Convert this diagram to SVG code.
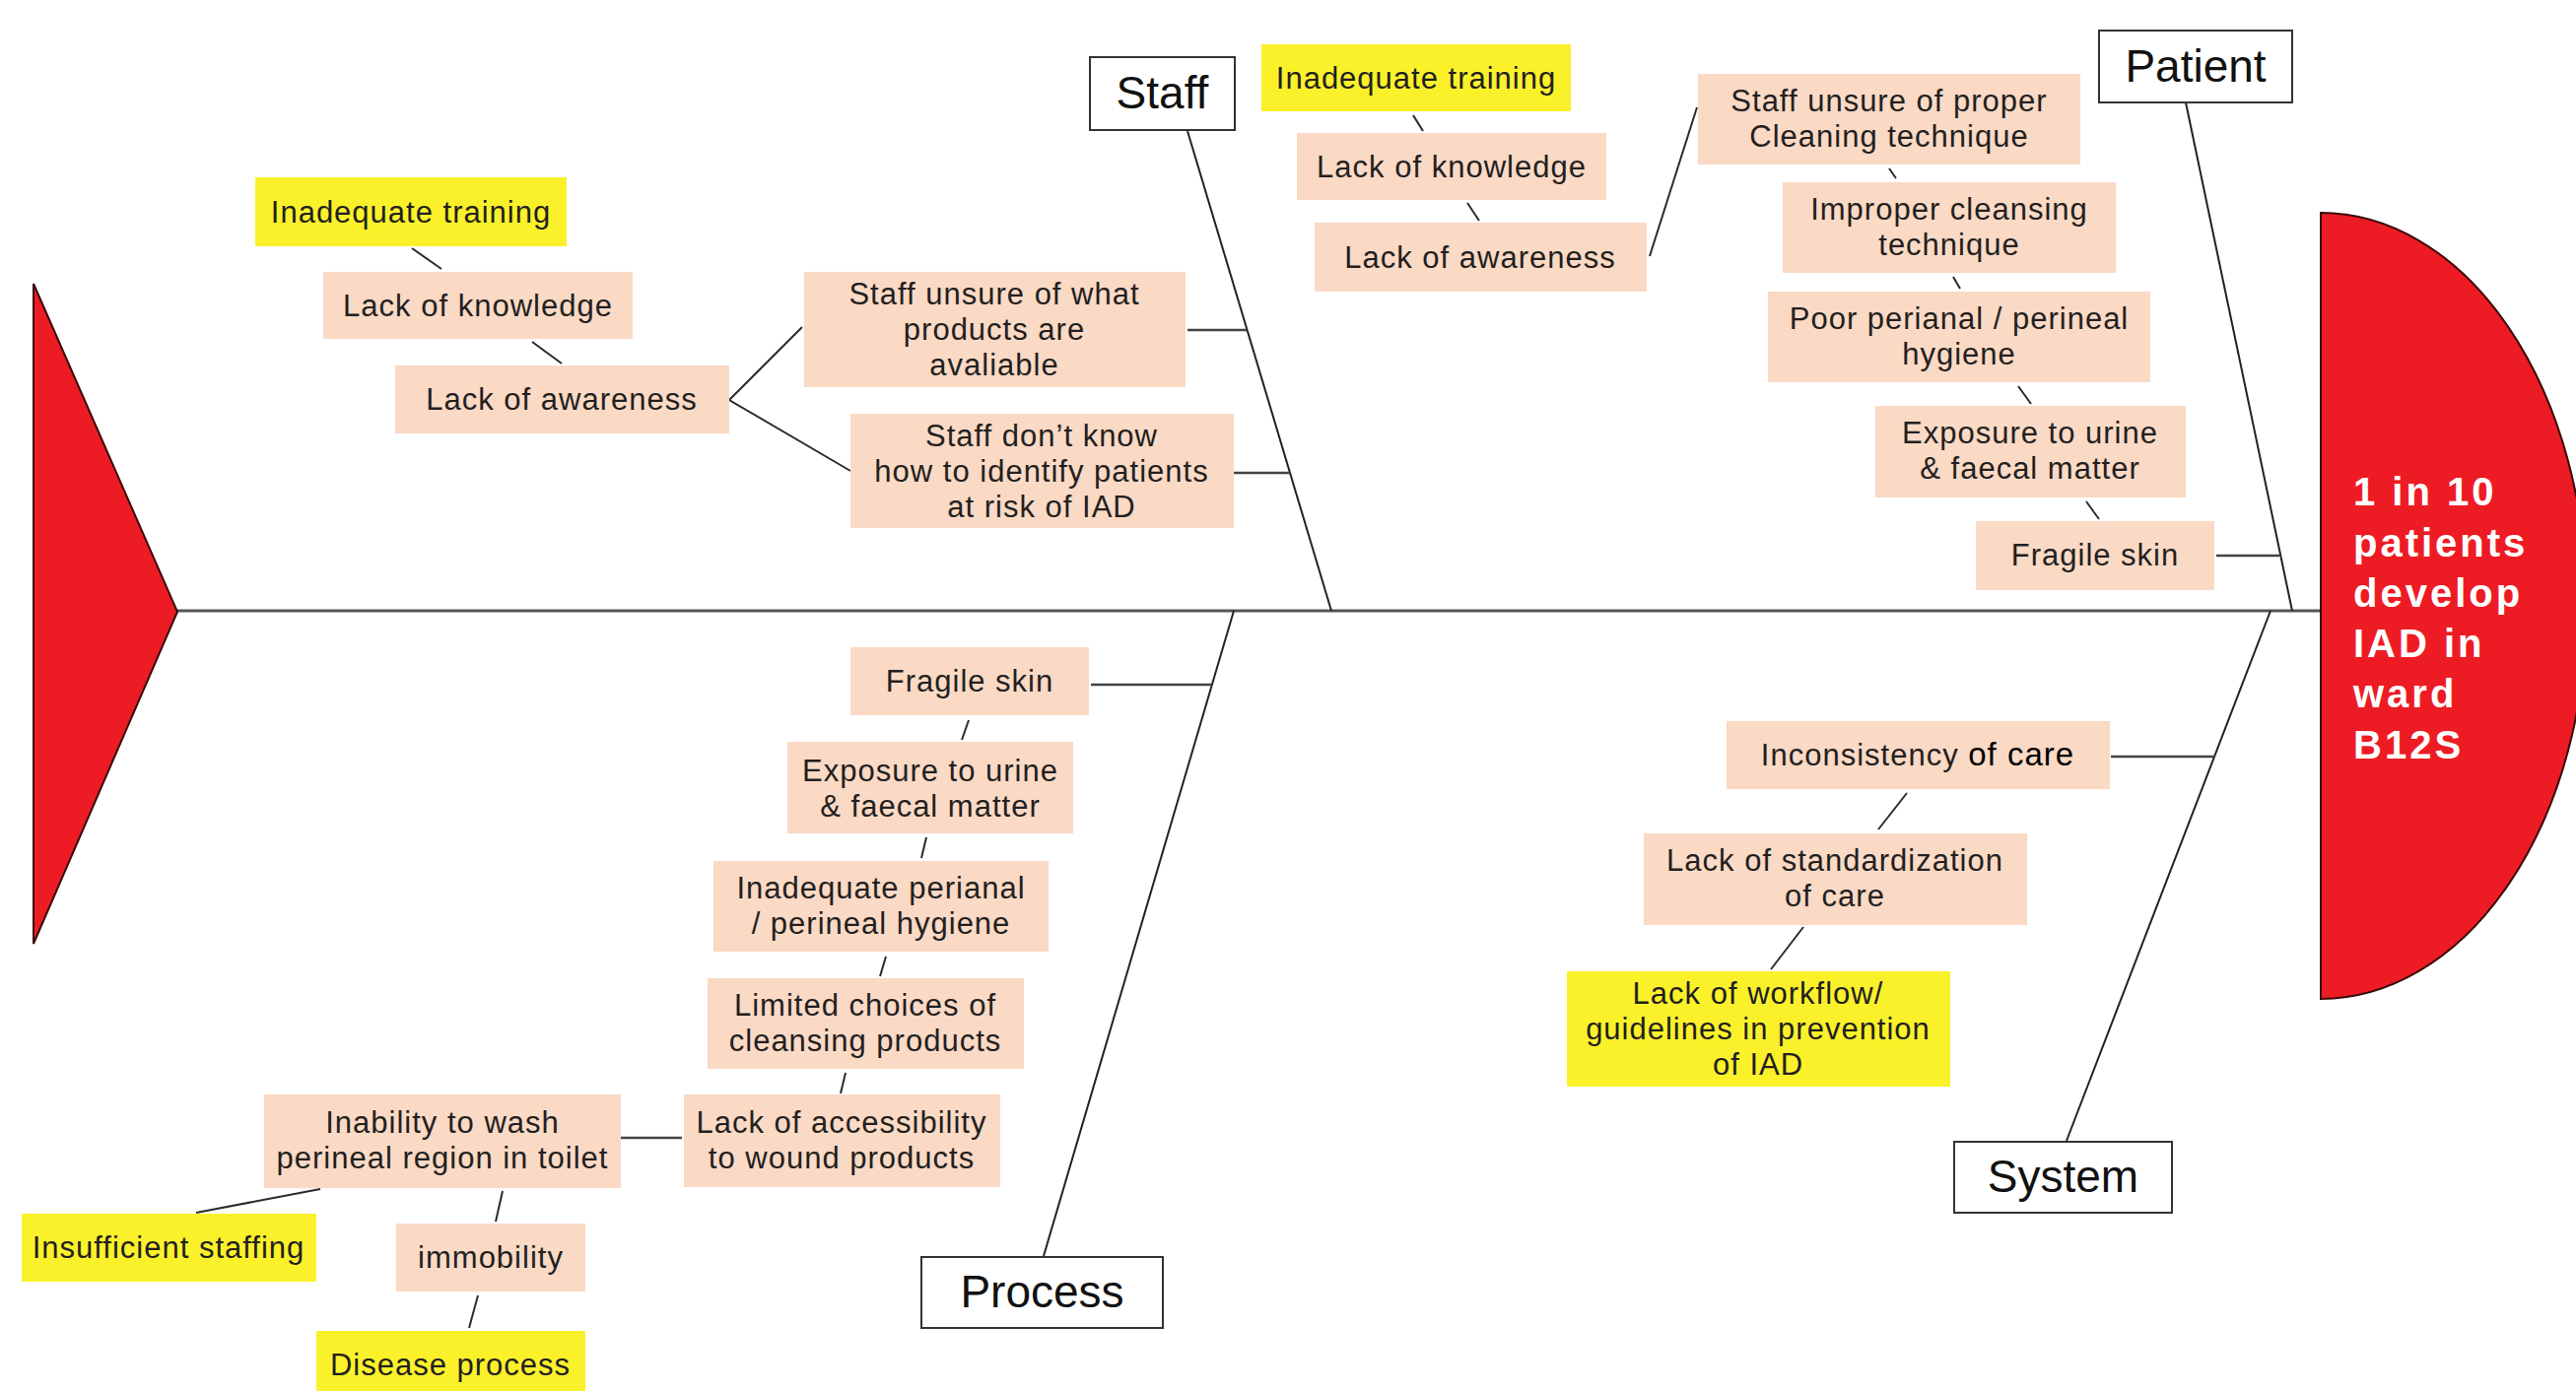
<svg xmlns="http://www.w3.org/2000/svg" width="2614" height="1412" viewBox="0 0 2614 1412">
<style>
.pb{fill:#FAD9C5}
.yb{fill:#FAF12A}
.cat{fill:#fff;stroke:#333;stroke-width:2}
.t{font-family:"Liberation Sans",Arial,sans-serif;font-size:31px;fill:#231F20;text-anchor:middle;letter-spacing:1px}
.ct{font-family:"Liberation Sans",Arial,sans-serif;font-size:46px;fill:#111;text-anchor:middle}
.ht{font-family:"Liberation Sans",Arial,sans-serif;font-size:40px;font-weight:bold;fill:#fff;letter-spacing:3px}
.ln{stroke:#2b2b2b;stroke-width:2;fill:none}
.hl{stroke:#444;stroke-width:2.5;fill:none}
.bone{stroke:#222;stroke-width:2;fill:none}
</style>
<rect width="2614" height="1412" fill="#fff"/>

<g id="connectors">
  <line class="hl" x1="180" y1="620" x2="2355" y2="620" style="stroke:#555;stroke-width:3"/>
  <line class="bone" x1="1205" y1="133" x2="1351" y2="620"/>
  <line class="bone" x1="2218" y1="104" x2="2326" y2="620"/>
  <line class="bone" x1="1252" y1="620" x2="1059" y2="1275"/>
  <line class="bone" x1="2304" y1="620" x2="2097" y2="1158"/>
  <line class="ln" x1="418" y1="252" x2="448" y2="273"/>
  <line class="ln" x1="540" y1="347" x2="570" y2="369"/>
  <polyline class="ln" points="814,332 740,406 863,478"/>
  <line class="hl" x1="1205" y1="335" x2="1265" y2="335"/>
  <line class="hl" x1="1252" y1="480" x2="1309" y2="480"/>
  <line class="ln" x1="1434" y1="117" x2="1444" y2="133"/>
  <line class="ln" x1="1489" y1="206" x2="1501" y2="224"/>
  <line class="ln" x1="1674" y1="260" x2="1722" y2="109"/>
  <line class="ln" x1="1917" y1="171" x2="1924" y2="181"/>
  <line class="ln" x1="1982" y1="281" x2="1989" y2="293"/>
  <line class="ln" x1="2048" y1="392" x2="2061" y2="410"/>
  <line class="ln" x1="2117" y1="509" x2="2130" y2="527"/>
  <line class="hl" x1="2249" y1="564" x2="2313" y2="564"/>
  <line class="hl" x1="1107" y1="695" x2="1230" y2="695"/>
  <line class="ln" x1="983" y1="731" x2="976" y2="751"/>
  <line class="ln" x1="940" y1="850" x2="935" y2="871"/>
  <line class="ln" x1="899" y1="971" x2="893" y2="991"/>
  <line class="ln" x1="858" y1="1089" x2="853" y2="1110"/>
  <line class="hl" x1="630" y1="1155" x2="692" y2="1155"/>
  <line class="ln" x1="325" y1="1207" x2="199" y2="1231"/>
  <line class="ln" x1="510" y1="1209" x2="503" y2="1240"/>
  <line class="ln" x1="485" y1="1315" x2="476" y2="1348"/>
  <line class="hl" x1="2142" y1="768" x2="2248" y2="768"/>
  <line class="ln" x1="1935" y1="805" x2="1906" y2="842"/>
  <line class="ln" x1="1830" y1="941" x2="1797" y2="984"/>
</g>

<g id="tail"><polygon points="34,288 180,621 34,958" fill="#ED1C24" stroke="#3a0a0a" stroke-width="2"/></g>

<g id="head">
  <path d="M2355,216 A270,399 0 0 1 2355,1014 Z" fill="#ED1C24" stroke="#3a0a0a" stroke-width="2"/>
  <text class="ht" x="2388" y="513">1 in 10</text>
  <text class="ht" x="2388" y="565">patients</text>
  <text class="ht" x="2388" y="616">develop</text>
  <text class="ht" x="2388" y="667">IAD in</text>
  <text class="ht" x="2388" y="718">ward</text>
  <text class="ht" x="2388" y="770">B12S</text>
</g>

<g id="cat-staff"><rect class="cat" x="1106" y="58" width="147" height="74"/><text class="ct" x="1179.5" y="110">Staff</text></g>
<g id="cat-patient"><rect class="cat" x="2130" y="31" width="196" height="73"/><text class="ct" x="2228" y="83">Patient</text></g>
<g id="cat-process"><rect class="cat" x="935" y="1276" width="245" height="72"/><text class="ct" x="1057.5" y="1327">Process</text></g>
<g id="cat-system"><rect class="cat" x="1983" y="1159" width="221" height="72"/><text class="ct" x="2093.5" y="1210">System</text></g>

<g id="n1"><rect class="yb" x="259" y="180" width="316" height="70"/><text class="t" x="417" y="226">Inadequate training</text></g>
<g id="n2"><rect class="pb" x="328" y="276" width="314" height="68"/><text class="t" x="485" y="321">Lack of knowledge</text></g>
<g id="n3"><rect class="pb" x="401" y="371" width="339" height="69"/><text class="t" x="570" y="416">Lack of awareness</text></g>
<g id="n4"><rect class="pb" x="816" y="276" width="387" height="117"/><text class="t" x="1009" y="309">Staff unsure of what</text><text class="t" x="1009" y="345">products are</text><text class="t" x="1009" y="381">avaliable</text></g>
<g id="n5"><rect class="pb" x="863" y="420" width="389" height="116"/><text class="t" x="1057" y="453">Staff don’t know</text><text class="t" x="1057" y="489">how to identify patients</text><text class="t" x="1057" y="525">at risk of IAD</text></g>
<g id="n6"><rect class="yb" x="1280" y="45" width="314" height="68"/><text class="t" x="1437" y="90">Inadequate training</text></g>
<g id="n7"><rect class="pb" x="1316" y="135" width="314" height="68"/><text class="t" x="1473" y="180">Lack of knowledge</text></g>
<g id="n8"><rect class="pb" x="1334" y="226" width="337" height="70"/><text class="t" x="1502" y="272">Lack of awareness</text></g>
<g id="n9"><rect class="pb" x="1723" y="75" width="388" height="92"/><text class="t" x="1917" y="113">Staff unsure of proper</text><text class="t" x="1917" y="149">Cleaning technique</text></g>
<g id="n10"><rect class="pb" x="1809" y="185" width="338" height="92"/><text class="t" x="1978" y="223">Improper cleansing</text><text class="t" x="1978" y="259">technique</text></g>
<g id="n11"><rect class="pb" x="1794" y="296" width="388" height="92"/><text class="t" x="1988" y="334">Poor perianal / perineal</text><text class="t" x="1988" y="370">hygiene</text></g>
<g id="n12"><rect class="pb" x="1903" y="412" width="315" height="93"/><text class="t" x="2060" y="450">Exposure to urine</text><text class="t" x="2060" y="486">&amp; faecal matter</text></g>
<g id="n13"><rect class="pb" x="2005" y="529" width="242" height="70"/><text class="t" x="2126" y="574">Fragile skin</text></g>
<g id="n14"><rect class="pb" x="863" y="657" width="242" height="69"/><text class="t" x="984" y="702">Fragile skin</text></g>
<g id="n15"><rect class="pb" x="799" y="753" width="290" height="93"/><text class="t" x="944" y="793">Exposure to urine</text><text class="t" x="944" y="829">&amp; faecal matter</text></g>
<g id="n16"><rect class="pb" x="724" y="874" width="340" height="92"/><text class="t" x="894" y="912">Inadequate perianal</text><text class="t" x="894" y="948">/ perineal hygiene</text></g>
<g id="n17"><rect class="pb" x="718" y="993" width="321" height="92"/><text class="t" x="878" y="1031">Limited choices of</text><text class="t" x="878" y="1067">cleansing products</text></g>
<g id="n18"><rect class="pb" x="694" y="1111" width="321" height="94"/><text class="t" x="854" y="1150">Lack of accessibility</text><text class="t" x="854" y="1186">to wound products</text></g>
<g id="n19"><rect class="pb" x="268" y="1111" width="362" height="95"/><text class="t" x="449" y="1150">Inability to wash</text><text class="t" x="449" y="1186">perineal region in toilet</text></g>
<g id="n20"><rect class="yb" x="22" y="1232" width="299" height="69"/><text class="t" x="171" y="1277">Insufficient staffing</text></g>
<g id="n21"><rect class="pb" x="402" y="1242" width="192" height="69"/><text class="t" x="498" y="1287">immobility</text></g>
<g id="n22"><rect class="yb" x="321" y="1351" width="273" height="70"/><text class="t" x="457" y="1396">Disease process</text></g>
<g id="n23"><rect class="pb" x="1752" y="732" width="389" height="69"/><text class="t" x="1946" y="777">Inconsistency <tspan style="font-size:33px;fill:#000">of care</tspan></text></g>
<g id="n24"><rect class="pb" x="1668" y="846" width="389" height="93"/><text class="t" x="1862" y="884">Lack of standardization</text><text class="t" x="1862" y="920">of care</text></g>
<g id="n25"><rect class="yb" x="1590" y="986" width="389" height="117"/><text class="t" x="1784" y="1019">Lack of workflow/</text><text class="t" x="1784" y="1055">guidelines in prevention</text><text class="t" x="1784" y="1091">of IAD</text></g>
</svg>
